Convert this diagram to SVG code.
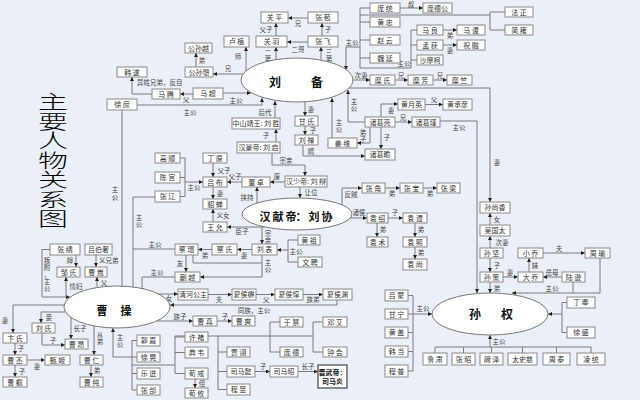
<svg xmlns="http://www.w3.org/2000/svg" width="640" height="400" viewBox="0 0 640 400">
<defs>
<marker id="a" viewBox="0 0 6 6" refX="6" refY="3" markerWidth="4" markerHeight="4" orient="auto" markerUnits="userSpaceOnUse"><path d="M0,0L6,3L0,6z" fill="#222"/></marker>
<style>
.bx{fill:#fff;stroke:#8a8a8a;stroke-width:1}
.bb{fill:#fff;stroke:#444;stroke-width:1.2}
.tx{font-family:"Noto Sans CJK SC",sans-serif;font-size:7px;fill:#333;text-anchor:middle}
.tb{font-family:"Noto Sans CJK SC",sans-serif;font-size:7px;font-weight:bold;fill:#111;text-anchor:middle}
.ln{fill:none;stroke:#7a7a7a;stroke-width:1}
.ar{marker-end:url(#a)}
.lb{font-family:"Noto Sans CJK SC",sans-serif;font-size:6.5px;fill:#444;text-anchor:middle}
.ls{font-family:"Noto Sans CJK SC",sans-serif;font-size:6.5px;fill:#444;text-anchor:start}
.el{fill:#fff;stroke:#7a7a7a;stroke-width:1}
.et{font-family:"Noto Sans CJK SC",sans-serif;font-weight:bold;fill:#111;text-anchor:middle}
.ti{font-family:"Noto Sans CJK SC",sans-serif;font-size:30px;font-weight:300;fill:#000;text-anchor:middle}
</style>
</defs>
<rect width="640" height="400" fill="#eaeff8"/>
<text class="ti" transform="scale(1,0.65)" x="53 53 53 53 53 53 53" y="168 198 228 258 288 318 348">主要人物关系图</text>

<g id="connectors">
<path class="ln ar" d="M276,36V23"/>
<path class="ln ar" d="M308,18H288"/>
<path class="ln ar" d="M308,42H287"/>
<path class="ln ar" d="M322,36V23"/>
<path class="ln ar" d="M276,60V47"/>
<path class="ln ar" d="M321,60V47"/>
<path class="ln ar" d="M246,71V47"/>
<path class="ln ar" d="M243,74H213"/>
<path class="ln ar" d="M196,67V53"/>
<path class="ln ar" d="M193,94H180"/>
<path class="ln ar" d="M152,94H132V77"/>
<path class="ln ar" d="M223,93H251"/>
<path class="ln ar" d="M137,105H262V98"/>
<path class="ln ar" d="M122,110V290"/>
<path class="ln ar" d="M275,118V101"/>
<path class="ln ar" d="M276,142V129"/>
<path class="ln ar" d="M272,153V165H305V176"/>
<path class="ln ar" d="M305,102V116"/>
<path class="ln ar" d="M305,126V135"/>
<path class="ln ar" d="M303,145V156H365"/>
<path class="ln ar" d="M332,138V98"/>
<path class="ln ar" d="M365,122H348V90"/>
<path class="ln ar" d="M370,127V143H357"/>
<path class="ln ar" d="M381,127V149"/>
<path class="ln ar" d="M381,117V104H398"/>
<path class="ln ar" d="M425,104.5H443"/>
<path class="ln ar" d="M395,122H412"/>
<path class="ln ar" d="M440,121H477V293"/>
<path class="ln ar" d="M353,80H370"/>
<path class="ln ar" d="M395,80H408"/>
<path class="ln ar" d="M433,80H447"/>
<path class="ln ar" d="M349,88H490V202"/>
<path class="ln" d="M360,8V68M360,8H370M360,22H370M360,40H370M360,58H370"/>
<path class="ln ar" d="M360,47H346V70"/>
<path class="ln ar" d="M400,8H423"/>
<path class="ln" d="M360,15H490M490,12V30M490,12H505M490,30H505"/>
<path class="ln" d="M411,30V68H360M411,30H417M411,45H417M411,60H417"/>
<path class="ln ar" d="M443,30H457"/>
<path class="ln ar" d="M443,45H457"/>

<path class="ln ar" d="M213,163V177"/>
<path class="ln ar" d="M242,182H227"/>
<path class="ln ar" d="M285,182H270"/>
<path class="ln ar" d="M257,203V187"/>
<path class="ln ar" d="M213,187V199"/>
<path class="ln ar" d="M213,222V209"/>
<path class="ln ar" d="M265,227H227"/>
<path class="ln" d="M185,158V196.5M180,158H185M180,177.5H185M180,196.5H185"/>
<path class="ln ar" d="M185,182H203"/>
<path class="ln ar" d="M155,197H133V291"/>
<path class="ln ar" d="M300,187V198"/>
<path class="ln ar" d="M342,205V188H362"/>
<path class="ln ar" d="M385,188H400"/>
<path class="ln ar" d="M423,188H437"/>
<path class="ln ar" d="M350,218H367"/>
<path class="ln ar" d="M377,223V237"/>
<path class="ln ar" d="M388,218H403"/>
<path class="ln ar" d="M415,223V237"/>
<path class="ln ar" d="M415,247V259"/>
<path class="ln ar" d="M262,226V244"/>
<path class="ln ar" d="M252,249.5H237"/>
<path class="ln ar" d="M212,249.5H198"/>
<path class="ln" d="M288,240V262M288,240H298M288,262H298"/>
<path class="ln ar" d="M288,250H277"/>
<path class="ln" d="M175,249H133"/>
<path class="ln ar" d="M186,255V272"/>
<path class="ln ar" d="M262,255V277H200"/>
<path class="ln" d="M193,255V263H262"/>
<path class="ln ar" d="M175,277H142V292"/>

<path class="ln ar" d="M50,249.5H42V297H70"/>
<path class="ln ar" d="M76,255V267"/>
<path class="ln ar" d="M66,297V277"/>
<path class="ln ar" d="M96,255V267"/>
<path class="ln ar" d="M97,288V277"/>
<path class="ln ar" d="M64,305H13V333"/>
<path class="ln ar" d="M15,343V355"/>
<path class="ln ar" d="M27,360H45"/>
<path class="ln ar" d="M15,365V377"/>
<path class="ln ar" d="M65,312H41V323"/>
<path class="ln ar" d="M42,333V345H65"/>
<path class="ln ar" d="M71,317V339"/>
<path class="ln ar" d="M94,326V355"/>
<path class="ln ar" d="M91,365V377"/>
<path class="ln ar" d="M113,357V328"/>
<path class="ln" d="M113,357H132M132,340.5V390M132,340.5H137M132,357H137M132,373.5H137M132,390H137M132,365H175"/>
<path class="ln" d="M175,336V373.5M175,337H185M175,352.5H185M175,373.5H185M175,336H313"/>
<path class="ln ar" d="M195,379V388"/>
<path class="ln" d="M218,336V389.5M218,352H227M218,371.5H227M218,389.5H227"/>
<path class="ln" d="M270,322V352M270,322H280M270,352H280"/>
<path class="ln" d="M313,322V352M313,322H323M313,352H323"/>
<path class="ln ar" d="M255,371.5H270"/>
<path class="ln ar" d="M298,371.5H318"/>
<path class="ln ar" d="M157,294H178"/>
<path class="ln ar" d="M208,294.5H232"/>
<path class="ln ar" d="M256,294.5H275"/>
<path class="ln ar" d="M303,294.5H323"/>
<path class="ln ar" d="M337,300V305H170"/>
<path class="ln ar" d="M157,321H193"/>
<path class="ln ar" d="M217,321H232"/>

<path class="ln ar" d="M490,225V213"/>
<path class="ln ar" d="M490,248V236"/>
<path class="ln ar" d="M490,258V272"/>
<path class="ln ar" d="M490,282V293"/>
<path class="ln ar" d="M503,277H518"/>
<path class="ln ar" d="M529,272V258"/>
<path class="ln ar" d="M543,253H585"/>
<path class="ln ar" d="M562,277H543"/>
<path class="ln ar" d="M600,258V293H512"/>
<path class="ln" d="M573,282V293"/>
<path class="ln" d="M413,295.5V371M408,295.5H413M408,314H413M408,332.5H413M408,351.5H413M408,371H413"/>
<path class="ln ar" d="M413,314H432"/>
<path class="ln" d="M562,302.5V332.5M562,302.5H567M562,332.5H567"/>
<path class="ln ar" d="M562,314H548"/>
<path class="ln" d="M435,347H591M435,347V353M463.5,347V353M491.5,347V353M522.5,347V353M556.5,347V353M591,347V353"/>
<path class="ln ar" d="M490,347V335"/>
</g>

<g id="labels">
<text class="lb" x="266" y="32">父子</text>
<text class="lb" x="298" y="26">兄</text>
<text class="lb" x="298" y="52">二哥</text>
<text class="lb" x="328" y="32">子</text>
<text class="lb" x="268 268" y="55 62">二弟</text>
<text class="lb" x="329 329" y="55 62">三弟</text>
<text class="lb" x="238" y="59">师</text>
<text class="lb" x="228" y="71">兄</text>
<text class="lb" x="202" y="63">弟</text>
<text class="lb" x="186" y="102">父</text>
<text class="ls" x="137" y="85">异姓兄弟，反目</text>
<text class="lb" x="236" y="103">主公</text>
<text class="lb" x="190" y="115">主公</text>
<text class="lb" x="115 115" y="192 200">主公</text>
<text class="lb" x="265" y="115">后代</text>
<text class="lb" x="266" y="138">子</text>
<text class="lb" x="286" y="163">宗亲</text>
<text class="lb" x="311" y="112">妻</text>
<text class="lb" x="313" y="133">子</text>
<text class="lb" x="311" y="154">婿</text>
<text class="lb" x="339 339" y="125 132">主公</text>
<text class="lb" x="354 354" y="104 111">主公</text>
<text class="lb" x="363 363" y="135 142">弟子</text>
<text class="lb" x="387" y="140">子</text>
<text class="lb" x="391" y="113">妻</text>
<text class="lb" x="434" y="102">父</text>
<text class="lb" x="403" y="120">兄</text>
<text class="lb" x="459" y="130">主公</text>
<text class="lb" x="361" y="78">次妻</text>
<text class="lb" x="401" y="78">兄</text>
<text class="lb" x="440" y="78">兄</text>
<text class="lb" x="497" y="165">妻</text>
<text class="lb" x="352" y="45">主公</text>
<text class="lb" x="411" y="7">叔</text>
<text class="lb" x="404" y="66">主公</text>
<text class="lb" x="450" y="38">弟</text>
<text class="lb" x="450" y="53">妻</text>

<text class="lb" x="224" y="173">父子</text>
<text class="lb" x="235" y="179">父子</text>
<text class="lb" x="277" y="179">废</text>
<text class="lb" x="247" y="200">挟持</text>
<text class="lb" x="220" y="196">妻</text>
<text class="lb" x="223" y="218">义女</text>
<text class="lb" x="242" y="234">臣子</text>
<text class="lb" x="194" y="190">主公</text>
<text class="lb" x="139 139" y="220 227">主公</text>
<text class="lb" x="311" y="195">让位</text>
<text class="lb" x="351" y="197">反贼</text>
<text class="lb" x="392" y="196">弟</text>
<text class="lb" x="430" y="196">弟</text>
<text class="lb" x="359" y="215">诸侯</text>
<text class="lb" x="383" y="232">弟</text>
<text class="lb" x="395" y="215">子</text>
<text class="lb" x="421" y="232">弟</text>
<text class="lb" x="421" y="255">弟</text>
<text class="lb" x="268 268" y="236 243">宗亲</text>
<text class="lb" x="244" y="258">妻</text>
<text class="lb" x="205" y="258">弟</text>
<text class="lb" x="296" y="254">主公</text>
<text class="lb" x="155" y="247">主公</text>
<text class="lb" x="180" y="266">友</text>
<text class="lb" x="268 268" y="265 272">主公</text>
<text class="lb" x="157" y="275">主公</text>

<text class="lb" x="47 47 47 47 47" y="263 270 277 284 291">叛附，主公</text>
<text class="lb" x="70" y="263">婶</text>
<text class="lb" x="76" y="289">情妇</text>
<text class="ls" x="99" y="263">义兄弟</text>
<text class="lb" x="104" y="285">父</text>
<text class="lb" x="5" y="323">妻</text>
<text class="lb" x="21" y="351">子</text>
<text class="lb" x="37" y="369">妻</text>
<text class="lb" x="22" y="374">子</text>
<text class="lb" x="49" y="320">妾</text>
<text class="lb" x="53" y="343">子</text>
<text class="lb" x="80" y="331">长子</text>
<text class="lb" x="100 100" y="337 344">从弟</text>
<text class="lb" x="97" y="373">弟</text>
<text class="lb" x="120 120" y="340 347">主公</text>
<text class="lb" x="202" y="386">侄</text>
<text class="lb" x="263" y="369">子</text>
<text class="lb" x="308" y="369">长子</text>
<text class="lb" x="169" y="301">女</text>
<text class="lb" x="219" y="302">夫</text>
<text class="lb" x="266" y="302">父</text>
<text class="lb" x="313" y="302">族弟</text>
<text class="lb" x="254" y="313">同族，主公</text>
<text class="lb" x="180" y="319">族子</text>
<text class="lb" x="225" y="319">子</text>

<text class="lb" x="497" y="222">女</text>
<text class="lb" x="502" y="245">次妻</text>
<text class="lb" x="497" y="268">子</text>
<text class="lb" x="497" y="291">弟</text>
<text class="lb" x="510" y="275">妻</text>
<text class="lb" x="535" y="268">妹</text>
<text class="lb" x="559" y="251">夫</text>
<text class="lb" x="552" y="275">岳母</text>
<text class="lb" x="552" y="291">主公</text>
<text class="lb" x="423" y="311">主公</text>
<text class="lb" x="499" y="344">主公</text>
</g>

<g id="liubei"><ellipse class="el" cx="297" cy="80" rx="56" ry="22"/><text class="et" font-size="12" x="275 317" y="87">刘备</text></g>
<g id="xiandi"><ellipse class="el" cx="297" cy="214" rx="55" ry="16"/><text class="et" font-size="11" x="265 278 291 301 314 327" y="221">汉献帝：刘协</text></g>
<g id="caocao"><ellipse class="el" cx="117" cy="307" rx="53" ry="21"/><text class="et" font-size="11" x="102 126" y="315">曹操</text></g>
<g id="sunquan"><ellipse class="el" cx="490" cy="314" rx="58" ry="21"/><text class="et" font-size="12" x="475 507" y="319">孙权</text></g>

<g id="guanping"><rect class="bx" x="261" y="12" width="27" height="11"/><text class="tx" x="274.5" y="20">关 平</text></g>
<g id="zhangbao"><rect class="bx" x="308" y="12" width="30" height="11"/><text class="tx" x="323" y="20">张 苞</text></g>
<g id="guanyu"><rect class="bx" x="256" y="36" width="31" height="11"/><text class="tx" x="271.5" y="44">关 羽</text></g>
<g id="zhangfei"><rect class="bx" x="308" y="36" width="30" height="11"/><text class="tx" x="323" y="44">张 飞</text></g>
<g id="luzhi"><rect class="bx" x="224" y="36" width="25" height="11"/><text class="tx" x="236.5" y="44">卢 植</text></g>
<g id="gongsunyue"><rect class="bx" x="185" y="43" width="27" height="10"/><text class="tx" x="198.5" y="50.5">公孙越</text></g>
<g id="gongsunzan"><rect class="bx" x="185" y="67" width="28" height="10"/><text class="tx" x="199" y="74.5">公孙瓒</text></g>
<g id="hansui"><rect class="bx" x="117" y="67" width="30" height="10"/><text class="tx" x="132" y="74.5">韩 遂</text></g>
<g id="mateng"><rect class="bx" x="152" y="89" width="28" height="10"/><text class="tx" x="166" y="96.5">马 腾</text></g>
<g id="machao"><rect class="bx" x="193" y="88" width="30" height="11"/><text class="tx" x="208" y="96">马 超</text></g>
<g id="xushu"><rect class="bx" x="107" y="99" width="30" height="11"/><text class="tx" x="122" y="107">徐 庶</text></g>
<g id="zhongshan"><rect class="bx" x="232" y="118" width="48" height="11"/><text class="tx" x="256" y="126" font-size="6.5">中山靖王: 刘 胜</text></g>
<g id="jingdi"><rect class="bx" x="237" y="142" width="43" height="11"/><text class="tx" x="258.5" y="150" font-size="6.5">汉景帝: 刘 启</text></g>
<g id="ganshi"><rect class="bx" x="295" y="116" width="23" height="10"/><text class="tx" x="306.5" y="123.5">甘 氏</text></g>
<g id="liushan"><rect class="bx" x="295" y="135" width="23" height="10"/><text class="tx" x="306.5" y="142.5">刘 禅</text></g>
<g id="jiangwei"><rect class="bx" x="328" y="138" width="29" height="10"/><text class="tx" x="342.5" y="145.5">姜 维</text></g>
<g id="zhugeliang"><rect class="bx" x="365" y="117" width="30" height="10"/><text class="tx" x="380" y="124.5">诸葛亮</text></g>
<g id="zhugezhan"><rect class="bx" x="365" y="149" width="30" height="11"/><text class="tx" x="380" y="157">诸葛瞻</text></g>
<g id="huangyueying"><rect class="bx" x="398" y="99" width="27" height="11"/><text class="tx" x="411.5" y="107">黄月英</text></g>
<g id="huangchengyan"><rect class="bx" x="443" y="99" width="29" height="11"/><text class="tx" x="457.5" y="107">黄承彦</text></g>
<g id="zhugejin"><rect class="bx" x="412" y="117" width="28" height="10"/><text class="tx" x="426" y="124.5">诸葛瑾</text></g>
<g id="pangtong"><rect class="bx" x="370" y="3" width="30" height="10"/><text class="tx" x="385" y="10.5">庞 统</text></g>
<g id="pangdegong"><rect class="bx" x="423" y="3" width="29" height="10"/><text class="tx" x="437.5" y="10.5">庞德公</text></g>
<g id="huangzhong"><rect class="bx" x="370" y="17" width="30" height="10"/><text class="tx" x="385" y="24.5">黄 忠</text></g>
<g id="zhaoyun"><rect class="bx" x="370" y="35" width="30" height="10"/><text class="tx" x="385" y="42.5">赵 云</text></g>
<g id="weiyan"><rect class="bx" x="370" y="53" width="30" height="10"/><text class="tx" x="385" y="60.5">魏 延</text></g>
<g id="maliang"><rect class="bx" x="417" y="25" width="26" height="10"/><text class="tx" x="430" y="32.5">马 良</text></g>
<g id="menghuo"><rect class="bx" x="417" y="40" width="26" height="10"/><text class="tx" x="430" y="47.5">孟 获</text></g>
<g id="shamoke"><rect class="bx" x="417" y="55" width="26" height="10"/><text class="tx" x="430" y="62.5">沙摩柯</text></g>
<g id="masu"><rect class="bx" x="457" y="25" width="28" height="10"/><text class="tx" x="471" y="32.5">马 谡</text></g>
<g id="zhurong"><rect class="bx" x="457" y="40" width="28" height="10"/><text class="tx" x="471" y="47.5">祝 融</text></g>
<g id="fazheng"><rect class="bx" x="505" y="7" width="28" height="10"/><text class="tx" x="519" y="14.5">法 正</text></g>
<g id="jianyong"><rect class="bx" x="505" y="25" width="28" height="10"/><text class="tx" x="519" y="32.5">简 雍</text></g>
<g id="mishi"><rect class="bx" x="370" y="75" width="25" height="10"/><text class="tx" x="382.5" y="82.5">糜 氏</text></g>
<g id="mifang"><rect class="bx" x="408" y="75" width="25" height="10"/><text class="tx" x="420.5" y="82.5">糜 芳</text></g>
<g id="mizhu"><rect class="bx" x="447" y="75" width="25" height="10"/><text class="tx" x="459.5" y="82.5">糜 竺</text></g>

<g id="dingyuan"><rect class="bx" x="203" y="153" width="24" height="10"/><text class="tx" x="215" y="160.5">丁 原</text></g>
<g id="lvbu"><rect class="bx" x="203" y="177" width="24" height="10"/><text class="tx" x="215" y="184.5">吕 布</text></g>
<g id="dongzhuo"><rect class="bx" x="242" y="177" width="28" height="10"/><text class="tx" x="256" y="184.5">董 卓</text></g>
<g id="diaochan"><rect class="bx" x="203" y="199" width="24" height="10"/><text class="tx" x="215" y="206.5">貂 蝉</text></g>
<g id="wangyun"><rect class="bx" x="203" y="222" width="24" height="10"/><text class="tx" x="215" y="229.5">王 允</text></g>
<g id="gaoshun"><rect class="bx" x="155" y="153" width="25" height="10"/><text class="tx" x="167.5" y="160.5">高 顺</text></g>
<g id="chengong"><rect class="bx" x="155" y="172" width="25" height="11"/><text class="tx" x="167.5" y="180">陈 宫</text></g>
<g id="zhangliao"><rect class="bx" x="155" y="191" width="25" height="11"/><text class="tx" x="167.5" y="199">张 辽</text></g>
<g id="shaodi"><rect class="bx" x="285" y="176" width="42" height="11"/><text class="tx" x="306" y="184" font-size="6.5">汉少帝: 刘 辩</text></g>
<g id="zhangjiao"><rect class="bx" x="362" y="183" width="23" height="10"/><text class="tx" x="373.5" y="190.5">张 角</text></g>
<g id="zhangbao2"><rect class="bx" x="400" y="183" width="23" height="10"/><text class="tx" x="411.5" y="190.5">张 宝</text></g>
<g id="zhangliang"><rect class="bx" x="437" y="183" width="23" height="10"/><text class="tx" x="448.5" y="190.5">张 梁</text></g>
<g id="yuanshao"><rect class="bx" x="367" y="213" width="21" height="10"/><text class="tx" x="377.5" y="220.5">袁 绍</text></g>
<g id="yuanshu"><rect class="bx" x="367" y="237" width="21" height="10"/><text class="tx" x="377.5" y="244.5">袁 术</text></g>
<g id="yuantan"><rect class="bx" x="403" y="213" width="24" height="10"/><text class="tx" x="415" y="220.5">袁 谭</text></g>
<g id="yuanxi"><rect class="bx" x="403" y="237" width="24" height="10"/><text class="tx" x="415" y="244.5">袁 熙</text></g>
<g id="yuanshang"><rect class="bx" x="403" y="259" width="24" height="11"/><text class="tx" x="415" y="267">袁 尚</text></g>
<g id="caimao"><rect class="bx" x="175" y="244" width="23" height="11"/><text class="tx" x="186.5" y="252">蔡 瑁</text></g>
<g id="caishi"><rect class="bx" x="212" y="244" width="25" height="11"/><text class="tx" x="224.5" y="252">蔡 氏</text></g>
<g id="liubiao"><rect class="bx" x="252" y="244" width="25" height="11"/><text class="tx" x="264.5" y="252">刘 表</text></g>
<g id="huangzu"><rect class="bx" x="298" y="235" width="22" height="10"/><text class="tx" x="309" y="242.5">黄 祖</text></g>
<g id="wenpin"><rect class="bx" x="298" y="257" width="24" height="10"/><text class="tx" x="310" y="264.5">文 聘</text></g>
<g id="kuaiyue"><rect class="bx" x="175" y="272" width="25" height="10"/><text class="tx" x="187.5" y="279.5">蒯 越</text></g>

<g id="zhangxiu"><rect class="bx" x="50" y="244" width="30" height="11"/><text class="tx" x="65" y="252">张 绣</text></g>
<g id="lvboshe"><rect class="bx" x="85" y="244" width="27" height="11"/><text class="tx" x="98.5" y="252">吕伯奢</text></g>
<g id="zoushi"><rect class="bx" x="57" y="267" width="23" height="10"/><text class="tx" x="68.5" y="274.5">邹 氏</text></g>
<g id="caosong"><rect class="bx" x="85" y="267" width="22" height="10"/><text class="tx" x="96" y="274.5">曹 嵩</text></g>
<g id="bianshi"><rect class="bx" x="3" y="333" width="24" height="10"/><text class="tx" x="15" y="340.5">卞 氏</text></g>
<g id="caopi"><rect class="bx" x="3" y="355" width="24" height="10"/><text class="tx" x="15" y="362.5">曹 丕</text></g>
<g id="zhenji"><rect class="bx" x="45" y="355" width="25" height="10"/><text class="tx" x="57.5" y="362.5">甄 姬</text></g>
<g id="caorui"><rect class="bx" x="3" y="377" width="24" height="10"/><text class="tx" x="15" y="384.5">曹 叡</text></g>
<g id="liushi"><rect class="bx" x="32" y="323" width="23" height="10"/><text class="tx" x="43.5" y="330.5">刘 氏</text></g>
<g id="caoang"><rect class="bx" x="65" y="339" width="23" height="10"/><text class="tx" x="76.5" y="346.5">曹 昂</text></g>
<g id="caoren"><rect class="bx" x="80" y="355" width="23" height="10"/><text class="tx" x="91.5" y="362.5">曹 仁</text></g>
<g id="caochun"><rect class="bx" x="80" y="377" width="23" height="10"/><text class="tx" x="91.5" y="384.5">曹 纯</text></g>
<g id="guojia"><rect class="bx" x="137" y="335" width="23" height="11"/><text class="tx" x="148.5" y="343">郭 嘉</text></g>
<g id="xuhuang"><rect class="bx" x="137" y="352" width="23" height="10"/><text class="tx" x="148.5" y="359.5">徐 晃</text></g>
<g id="yuejin"><rect class="bx" x="137" y="368" width="23" height="11"/><text class="tx" x="148.5" y="376">乐 进</text></g>
<g id="zhanghe"><rect class="bx" x="137" y="385" width="23" height="10"/><text class="tx" x="148.5" y="392.5">张 郃</text></g>
<g id="xuchu"><rect class="bx" x="185" y="332" width="23" height="10"/><text class="tx" x="196.5" y="339.5">许 褚</text></g>
<g id="dianwei"><rect class="bx" x="185" y="347" width="23" height="11"/><text class="tx" x="196.5" y="355">典 韦</text></g>
<g id="xunyu"><rect class="bx" x="185" y="368" width="23" height="11"/><text class="tx" x="196.5" y="376">荀 彧</text></g>
<g id="xunyou"><rect class="bx" x="185" y="388" width="23" height="10"/><text class="tx" x="196.5" y="395.5">荀 攸</text></g>
<g id="jiaxu"><rect class="bx" x="227" y="347" width="23" height="10"/><text class="tx" x="238.5" y="354.5">贾 诩</text></g>
<g id="simayi"><rect class="bx" x="227" y="366" width="28" height="11"/><text class="tx" x="241" y="374">司马懿</text></g>
<g id="chengyu"><rect class="bx" x="227" y="384" width="23" height="11"/><text class="tx" x="238.5" y="392">程 昱</text></g>
<g id="yujin"><rect class="bx" x="280" y="317" width="23" height="10"/><text class="tx" x="291.5" y="324.5">于 禁</text></g>
<g id="pangde"><rect class="bx" x="280" y="347" width="23" height="10"/><text class="tx" x="291.5" y="354.5">庞 德</text></g>
<g id="dengai"><rect class="bx" x="323" y="317" width="24" height="10"/><text class="tx" x="335" y="324.5">邓 艾</text></g>
<g id="zhonghui"><rect class="bx" x="323" y="347" width="24" height="10"/><text class="tx" x="335" y="354.5">钟 会</text></g>
<g id="simazhao"><rect class="bx" x="270" y="366" width="28" height="11"/><text class="tx" x="284" y="374">司马昭</text></g>
<g id="jinwudi"><rect class="bb" x="318" y="365" width="29" height="23"/><text class="tb" x="332.5" y="374.5">晋武帝：</text><text class="tb" x="332.5" y="384">司马炎</text></g>
<g id="qinghe"><rect class="bx" x="178" y="289" width="30" height="11"/><text class="tx" x="193" y="297">清河公主</text></g>
<g id="xiahoumao"><rect class="bx" x="232" y="289" width="24" height="11"/><text class="tx" x="244" y="297">夏侯楙</text></g>
<g id="xiahoudun"><rect class="bx" x="275" y="289" width="28" height="11"/><text class="tx" x="289" y="297">夏侯惇</text></g>
<g id="xiahouyuan"><rect class="bx" x="323" y="289" width="29" height="11"/><text class="tx" x="337.5" y="297">夏侯渊</text></g>
<g id="caozhen"><rect class="bx" x="193" y="316" width="24" height="10"/><text class="tx" x="205" y="323.5">曹 真</text></g>
<g id="caoshuang"><rect class="bx" x="232" y="316" width="23" height="10"/><text class="tx" x="243.5" y="323.5">曹 爽</text></g>

<g id="sunshangxiang"><rect class="bx" x="480" y="202" width="30" height="11"/><text class="tx" x="495" y="210">孙尚香</text></g>
<g id="wuguotai"><rect class="bx" x="480" y="225" width="30" height="11"/><text class="tx" x="495" y="233">吴国太</text></g>
<g id="sunjian"><rect class="bx" x="480" y="248" width="23" height="10"/><text class="tx" x="491.5" y="255.5">孙 坚</text></g>
<g id="sunce"><rect class="bx" x="480" y="272" width="23" height="10"/><text class="tx" x="491.5" y="279.5">孙 策</text></g>
<g id="xiaoqiao"><rect class="bx" x="518" y="248" width="25" height="10"/><text class="tx" x="530.5" y="255.5">小 乔</text></g>
<g id="daqiao"><rect class="bx" x="518" y="272" width="25" height="10"/><text class="tx" x="530.5" y="279.5">大 乔</text></g>
<g id="zhouyu"><rect class="bx" x="585" y="248" width="25" height="10"/><text class="tx" x="597.5" y="255.5">周 瑜</text></g>
<g id="luxun"><rect class="bx" x="562" y="272" width="23" height="10"/><text class="tx" x="573.5" y="279.5">陆 逊</text></g>
<g id="lvmeng"><rect class="bx" x="385" y="290" width="23" height="11"/><text class="tx" x="396.5" y="298">吕 蒙</text></g>
<g id="ganning"><rect class="bx" x="385" y="309" width="23" height="10"/><text class="tx" x="396.5" y="316.5">甘 宁</text></g>
<g id="huanggai"><rect class="bx" x="385" y="327" width="23" height="11"/><text class="tx" x="396.5" y="335">黄 盖</text></g>
<g id="handang"><rect class="bx" x="385" y="346" width="23" height="11"/><text class="tx" x="396.5" y="354">韩 当</text></g>
<g id="chengpu"><rect class="bx" x="385" y="365" width="23" height="12"/><text class="tx" x="396.5" y="373.5">程 普</text></g>
<g id="dingfeng"><rect class="bx" x="567" y="297" width="28" height="11"/><text class="tx" x="581" y="305">丁 奉</text></g>
<g id="xusheng"><rect class="bx" x="567" y="327" width="28" height="11"/><text class="tx" x="581" y="335">徐 盛</text></g>
<g id="lusu"><rect class="bx" x="423" y="353" width="24" height="12"/><text class="tx" x="435" y="361.5">鲁 肃</text></g>
<g id="zhangzhao"><rect class="bx" x="452" y="353" width="23" height="12"/><text class="tx" x="463.5" y="361.5">张 昭</text></g>
<g id="kanze"><rect class="bx" x="480" y="353" width="23" height="12"/><text class="tx" x="491.5" y="361.5">阚 泽</text></g>
<g id="taishici"><rect class="bx" x="508" y="353" width="29" height="12"/><text class="tx" x="522.5" y="361.5">太史慈</text></g>
<g id="zhoutai"><rect class="bx" x="543" y="353" width="27" height="12"/><text class="tx" x="556.5" y="361.5">周 泰</text></g>
<g id="lingtong"><rect class="bx" x="577" y="353" width="28" height="12"/><text class="tx" x="591" y="361.5">凌 统</text></g>
</svg>
